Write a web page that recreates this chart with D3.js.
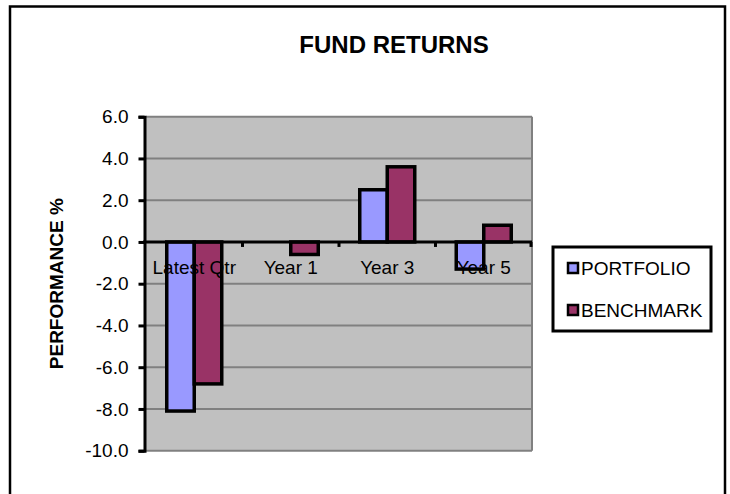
<!DOCTYPE html>
<html>
<head>
<meta charset="utf-8">
<script src="https://d3js.org/d3.v7.min.js"></script>
<style>
  html, body { margin: 0; padding: 0; background: #fff; }
  svg { display: block; font-family: "Liberation Sans", Arial, sans-serif; }
</style>
</head>
<body>
<svg id="chart" width="730" height="494"></svg>
<script>
// ── Data ──
const categories = ['Latest Qtr', 'Year 1', 'Year 3', 'Year 5'];
const seriesNames = ['PORTFOLIO', 'BENCHMARK'];
const portfolio = [-8.1, 0, 2.5, -1.3];
const benchmark = [-6.8, -0.6, 3.6, 0.8];
const yTicks = [6, 4, 2, 0, -2, -4, -6, -8, -10];

const COLORS = { PORTFOLIO: '#9999FF', BENCHMARK: '#993366' };

const svg = d3.select('#chart');

// outer chart frame (bottom edge runs off the picture)
svg.append('rect').attr('x', 10).attr('y', 6.5).attr('width', 715).attr('height', 520)
  .attr('fill', '#fff').attr('stroke', '#000').attr('stroke-width', 2.5);

// plot area
const plot = { left: 146, right: 532, top: 116.7, bottom: 450.7 };

const y = d3.scaleLinear().domain([-10, 6]).range([plot.bottom, plot.top]);
const x0 = d3.scaleBand().domain(categories).range([plot.left, plot.right])
  .paddingInner(0.43).paddingOuter(0.215);
const x1 = d3.scaleBand().domain(seriesNames).range([0, x0.bandwidth()]);

svg.append('rect').attr('x', plot.left).attr('y', plot.top)
  .attr('width', plot.right - plot.left).attr('height', plot.bottom - plot.top)
  .attr('fill', '#C0C0C0');

// gridlines
svg.append('g').selectAll('line').data(yTicks).enter().append('line')
  .attr('x1', plot.left).attr('x2', plot.right)
  .attr('y1', d => y(d)).attr('y2', d => y(d))
  .attr('stroke', '#808080').attr('stroke-width', 2);
svg.append('line').attr('x1', plot.right).attr('x2', plot.right)
  .attr('y1', plot.top).attr('y2', plot.bottom)
  .attr('stroke', '#808080').attr('stroke-width', 2);

// bars
const rows = categories.map((c, i) => ({ cat: c, values: [
  { name: 'PORTFOLIO', v: portfolio[i] }, { name: 'BENCHMARK', v: benchmark[i] }] }));

const groups = svg.append('g').selectAll('g').data(rows).enter().append('g')
  .attr('transform', d => `translate(${x0(d.cat)},0)`);
groups.selectAll('rect').data(d => d.values.filter(e => e.v !== 0)).enter().append('rect')
  .attr('x', d => x1(d.name)).attr('width', x1.bandwidth())
  .attr('y', d => y(Math.max(0, d.v))).attr('height', d => Math.abs(y(d.v) - y(0)))
  .attr('fill', d => COLORS[d.name]).attr('stroke', '#000').attr('stroke-width', 3.5);

// y axis
const yAxis = d3.axisLeft(y).tickValues(yTicks).tickFormat(d => d.toFixed(1))
  .tickSize(6).tickPadding(10);
const yg = svg.append('g').attr('transform', `translate(${plot.left - 1.5},0)`).call(yAxis);
yg.select('.domain').attr('stroke', '#000').attr('stroke-width', 3);
yg.selectAll('.tick line').attr('stroke', '#000').attr('stroke-width', 3);
yg.selectAll('.tick text').attr('font-size', '19px').attr('fill', '#000')
  .attr('font-family', '"Liberation Sans", Arial, sans-serif');

// x axis along zero
svg.append('line').attr('x1', plot.left - 3).attr('x2', plot.right)
  .attr('y1', y(0)).attr('y2', y(0)).attr('stroke', '#000').attr('stroke-width', 3);
const bounds = categories.slice(1).map(c => x0(c) - (x0.step() - x0.bandwidth()) / 2).concat([plot.right - 1]);
svg.append('g').selectAll('line').data(bounds).enter().append('line')
  .attr('x1', d => d).attr('x2', d => d).attr('y1', y(0)).attr('y2', y(0) + 5)
  .attr('stroke', '#000').attr('stroke-width', 3);

svg.append('g').selectAll('text').data(categories).enter().append('text')
  .attr('x', d => x0(d) + x0.bandwidth() / 2).attr('y', 274)
  .attr('text-anchor', 'middle').attr('font-size', '19px').attr('fill', '#000')
  .text(d => d);

// titles
svg.append('text').attr('x', 394).attr('y', 53).attr('text-anchor', 'middle')
  .attr('font-size', '24px').attr('font-weight', 'bold').text('FUND RETURNS');
svg.append('text').attr('transform', `translate(63,${(plot.top + plot.bottom) / 2}) rotate(-90)`)
  .attr('text-anchor', 'middle').attr('font-size', '19px').attr('font-weight', 'bold')
  .text('PERFORMANCE %');

// legend
const legend = svg.append('g').attr('transform', 'translate(553,247)');
legend.append('rect').attr('width', 158).attr('height', 84)
  .attr('fill', '#fff').attr('stroke', '#000').attr('stroke-width', 3);
const items = legend.selectAll('g').data(seriesNames).enter().append('g')
  .attr('transform', (d, i) => `translate(0,${21 + i * 42})`);
items.append('rect').attr('x', 15).attr('y', -5).attr('width', 10).attr('height', 10)
  .attr('fill', d => COLORS[d]).attr('stroke', '#000').attr('stroke-width', 2.5);
items.append('text').attr('x', 28).attr('dy', '0.36em').attr('font-size', '19px')
  .text(d => d);
</script>
</body>
</html>
